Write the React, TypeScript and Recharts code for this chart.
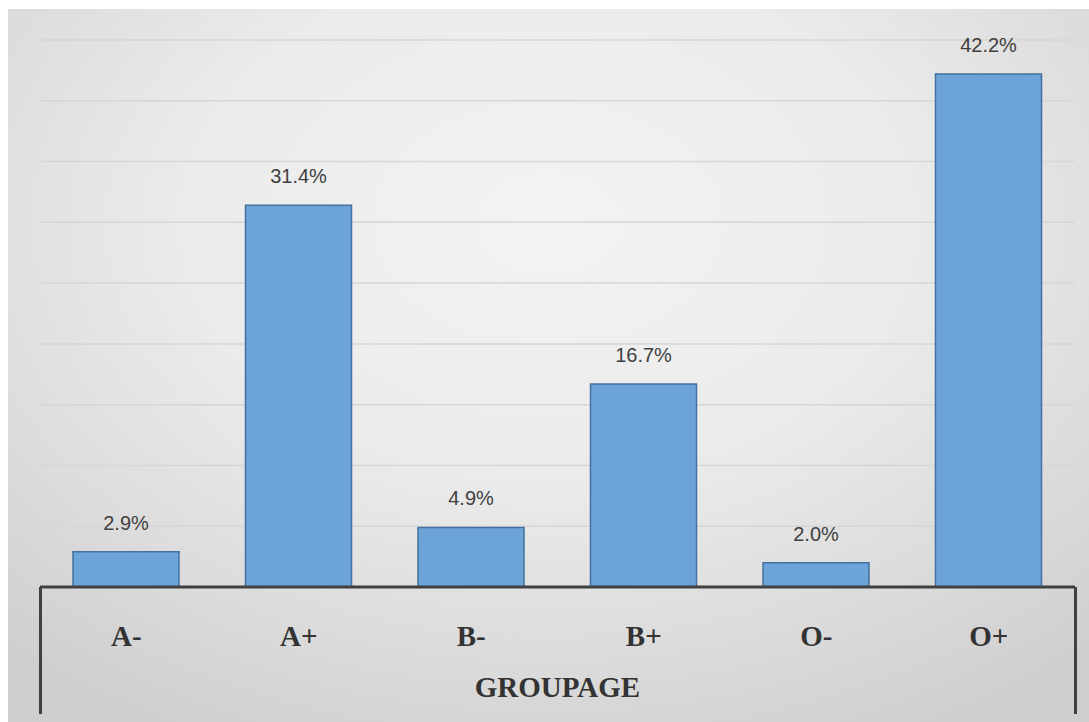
import React from "react";
import { BarChart, Bar, XAxis, YAxis, CartesianGrid, LabelList } from "recharts";

const groups = ["A-", "A+", "B-", "B+", "O-", "O+"];
const shares = [2.9, 31.4, 4.9, 16.7, 2.0, 42.2];
const yTicks = [0, 5, 10, 15, 20, 25, 30, 35, 40, 45];

const data = groups.map((g, i) => ({ group: g, share: shares[i] }));

const W = 1089;
const H = 722;
const margin = { top: 40, right: 14, left: 40, bottom: 0 };
const axisHeight = 135;

function GroupTick(props: any) {
  const { x, y, payload } = props;
  return (
    <text
      x={x}
      y={y + 51}
      textAnchor="middle"
      fontFamily="'Liberation Serif', 'Times New Roman', serif"
      fontWeight="bold"
      fontSize={29}
      fill="#333333"
    >
      {payload.value}
    </text>
  );
}

export default function App() {
  const boxTop = H - axisHeight;
  return (
    <div style={{ position: "absolute", left: 0, top: 0, width: W, height: H, background: "#ffffff", overflow: "hidden" }}>
      <div
        style={{
          position: "absolute",
          left: 8,
          top: 9,
          right: 0,
          bottom: 0,
          background:
            "radial-gradient(ellipse 75% 80% at 50% 30%, #f3f3f3 0%, #ebebeb 45%, #dcdcdc 75%, #cfcfcf 100%)",
        }}
      />
      {/* side walls of the category box */}
      <div style={{ position: "absolute", left: margin.left - 1.5, top: boxTop, width: 3, height: 127, background: "#404040" }} />
      <div style={{ position: "absolute", left: W - margin.right - 1.5, top: boxTop, width: 3, height: 127, background: "#404040" }} />
      <div style={{ position: "absolute", left: 0, top: 0 }}>
        <BarChart width={W} height={H} data={data} margin={margin} barSize={106}>
          <CartesianGrid vertical={false} stroke="#d6d6d6" strokeWidth={1.5} />
          <YAxis hide domain={[0, 45]} ticks={yTicks} />
          <XAxis
            dataKey="group"
            height={axisHeight}
            axisLine={{ stroke: "#404040", strokeWidth: 3 }}
            tickLine={false}
            tick={<GroupTick />}
            interval={0}
            label={{
              value: "GROUPAGE",
              position: "insideBottom",
              offset: 25,
              fill: "#333333",
              fontSize: 29,
              fontWeight: "bold",
              fontFamily: "'Liberation Serif', 'Times New Roman', serif",
            }}
          />
          <Bar dataKey="share" fill="#6ca4da" stroke="#41719c" strokeWidth={1.5} isAnimationActive={false}>
            <LabelList
              dataKey="share"
              position="top"
              offset={22}
              formatter={(v: any) => `${Number(v).toFixed(1)}%`}
              fill="#404040"
              fontSize={20}
              fontFamily="'Liberation Sans', Arial, sans-serif"
            />
          </Bar>
        </BarChart>
      </div>
    </div>
  );
}
